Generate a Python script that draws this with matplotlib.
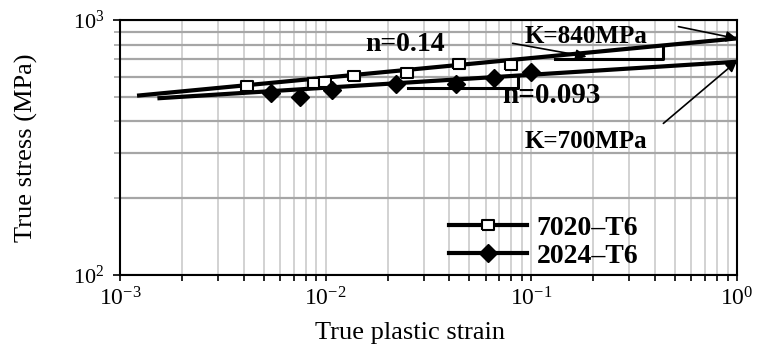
import matplotlib
matplotlib.use("Agg")
import matplotlib.pyplot as plt
from matplotlib.lines import Line2D
from matplotlib.ticker import LogLocator, LogFormatterMathtext, NullFormatter
import numpy as np

plt.rcParams['font.family'] = ['Liberation Serif', 'DejaVu Serif']
plt.rcParams['mathtext.fontset'] = 'custom'
plt.rcParams['mathtext.rm'] = 'Liberation Serif'
plt.rcParams['mathtext.it'] = 'Liberation Serif:italic'
plt.rcParams['mathtext.bf'] = 'Liberation Serif:bold'
plt.rcParams['axes.unicode_minus'] = False

# ---- data ----
strain_7020 = [0.00413, 0.00877, 0.00993, 0.01374, 0.0248, 0.0447, 0.0796]
stress_7020 = [551, 566, 571, 603, 618, 670, 666]

strain_2024 = [0.00541, 0.0075, 0.01074, 0.0221, 0.0431, 0.0658, 0.0995]
stress_2024 = [516, 499, 532, 560, 563, 591, 627]

fit_strain_7020 = [0.00121, 1.0]
fit_stress_7020 = [505, 847]
fit_strain_2024 = [0.00152, 1.0]
fit_stress_2024 = [493, 686]

# slope triangles (horizontal leg then vertical leg)
tri_strain_7020 = [0.1303, 0.4365, 0.4365]
tri_stress_7020 = [701.5, 701.5, 795]
tri_strain_2024 = [0.02523, 0.0865, 0.0865]
tri_stress_2024 = [542.7, 542.7, 599]

labels = ["7020\u2013T6", "2024\u2013T6"]

fig = plt.figure(figsize=(7.72, 3.54), dpi=100)
ax = fig.add_axes([120/772, 1-275/354, 617/772, 255/354])
ax.set_xscale('log')
ax.set_yscale('log')
ax.set_xlim(1e-3, 1e0)
ax.set_ylim(1e2, 1e3)

# grid
ax.xaxis.set_major_locator(LogLocator(base=10, numticks=10))
ax.xaxis.set_minor_locator(LogLocator(base=10, subs=np.arange(2, 10), numticks=20))
ax.yaxis.set_major_locator(LogLocator(base=10, numticks=10))
ax.yaxis.set_minor_locator(LogLocator(base=10, subs=np.arange(2, 10), numticks=20))
ax.xaxis.set_major_formatter(LogFormatterMathtext())
ax.yaxis.set_major_formatter(LogFormatterMathtext())
ax.xaxis.set_minor_formatter(NullFormatter())
ax.yaxis.set_minor_formatter(NullFormatter())

ax.grid(True, which='both', axis='x', color='#cfcfcf', lw=1.3)
ax.grid(True, which='both', axis='y', color='#a6a6a6', lw=1.6)
ax.set_axisbelow(True)

for s in ax.spines.values():
    s.set_linewidth(1.5)
    s.set_color('black')

ax.tick_params(axis='x', which='both', direction='out', length=4, width=1.2, color='black',
               top=False, labelsize=17, pad=5)
ax.tick_params(axis='y', which='major', direction='out', length=5, width=1.2, color='black',
               right=False, labelsize=16, pad=6)
ax.tick_params(axis='y', which='minor', direction='out', length=4, width=1.2, color='#a6a6a6',
               right=False)

# fit lines
ax.plot(fit_strain_7020, fit_stress_7020, color='black', lw=3.0, solid_capstyle='butt', zorder=3)
ax.plot(fit_strain_2024, fit_stress_2024, color='black', lw=3.0, solid_capstyle='butt', zorder=3)

# slope triangles
ax.plot(tri_strain_7020, tri_stress_7020, color='black', lw=2.2, zorder=3)
ax.plot(tri_strain_2024, tri_stress_2024, color='black', lw=2.2, zorder=3)

rect = [(-1, -0.78), (1, -0.78), (1, 0.78), (-1, 0.78), (-1, -0.78)]
ax.plot(strain_7020, stress_7020, ls='none', marker=rect, ms=9, mfc='white', mec='black',
        mew=1.5, zorder=4)
ax.plot(strain_2024, stress_2024, ls='none', marker='D', ms=9, mfc='black', mec='black',
        zorder=4)

# annotations
bold = dict(fontweight='bold', family='Liberation Serif', color='black')
ax.text(0.0155, 755, "n=0.14", fontsize=20, ha='left', va='baseline', **bold)
ax.text(0.0931, 812, "K=840MPa", fontsize=18, ha='left', va='baseline', **bold)
ax.text(0.0719, 473, "n=0.093", fontsize=21, ha='left', va='baseline', **bold)
ax.text(0.0931, 315, "K=700MPa", fontsize=18, ha='left', va='baseline', **bold)

ap = dict(arrowstyle='-|>', mutation_scale=16, lw=1.2, color='black', shrinkA=0, shrinkB=0)
ax.annotate("", xy=(0.1857, 718), xytext=(0.0811, 810), arrowprops=ap, zorder=5)
ax.annotate("", xy=(1.0, 845), xytext=(0.519, 942), arrowprops=ap, zorder=5,
            annotation_clip=False)
ax.annotate("", xy=(1.0, 690), xytext=(0.4385, 393), arrowprops=ap, zorder=5,
            annotation_clip=False)

# legend
h1 = Line2D([], [], color='black', lw=3.0, marker=rect, ms=9, mfc='white', mec='black', mew=1.5)
h2 = Line2D([], [], color='black', lw=3.0, marker='D', ms=9, mfc='black', mec='black')
leg = ax.legend([h1, h2], labels, loc='lower left', bbox_to_anchor=(0.533, 0.025),
                frameon=False, borderpad=0, borderaxespad=0, handlelength=2.8,
                handletextpad=0.36, labelspacing=0.08,
                prop={'family': 'Liberation Serif', 'weight': 'bold', 'size': 20})

ax.set_xlabel("True plastic strain", fontsize=19)
ax.set_ylabel("True stress (MPa)", fontsize=19)
ax.xaxis.set_label_coords((410-120)/617, -(322-275)/255)
ax.yaxis.set_label_coords((38-120)/617, 0.5)

fig.savefig("out.png", dpi=100)
